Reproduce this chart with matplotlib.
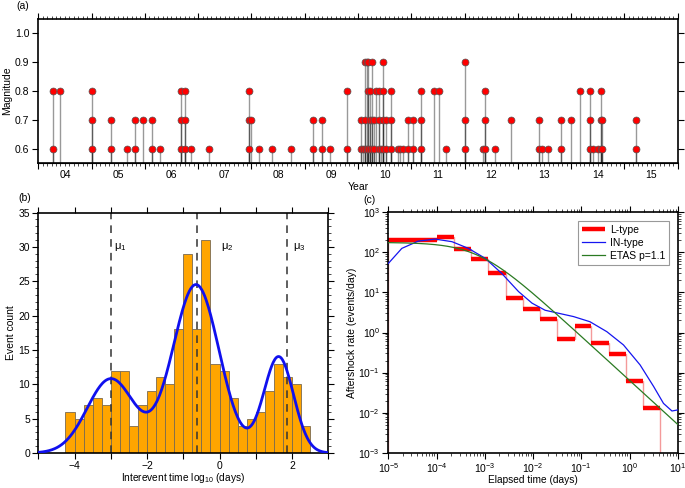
import numpy as np
import matplotlib
matplotlib.use('Agg')
import matplotlib.pyplot as plt
from matplotlib.ticker import MultipleLocator, LogLocator, NullFormatter

plt.rcParams['font.family'] = ['Liberation Sans', 'DejaVu Sans']
plt.rcParams['mathtext.default'] = 'regular'
plt.rcParams['font.size'] = 7.5

# (a) catalogue: event time (decimal year) and magnitude
ev_year = [2004.27, 2004.27, 2004.41,
           2005.00, 2005.00, 2005.00, 2005.36, 2005.36, 2005.66, 2005.81, 2005.81, 2005.96,
           2006.13, 2006.13, 2006.29, 2006.68, 2006.68, 2006.68, 2006.76, 2006.76, 2006.76, 2006.87,
           2007.21, 2007.96, 2007.96, 2007.96,
           2008.00, 2008.14, 2008.39, 2008.74,
           2009.16, 2009.16, 2009.33, 2009.33, 2009.48, 2009.80, 2009.80,
           2010.06, 2010.06, 2010.09, 2010.13, 2010.13, 2010.13, 2010.16, 2010.16,
           2010.19, 2010.19, 2010.19, 2010.23, 2010.23, 2010.23, 2010.27, 2010.27, 2010.27,
           2010.31, 2010.31, 2010.33, 2010.39, 2010.39, 2010.39, 2010.44,
           2010.47, 2010.47, 2010.47, 2010.47, 2010.53, 2010.53, 2010.62, 2010.62, 2010.62,
           2010.75, 2010.78, 2010.84, 2010.94, 2010.94,
           2011.03, 2011.03, 2011.19, 2011.19, 2011.19, 2011.43, 2011.52, 2011.66,
           2012.00, 2012.00, 2012.00, 2012.34, 2012.38, 2012.39, 2012.39, 2012.57, 2012.87,
           2013.40, 2013.40, 2013.45, 2013.57, 2013.81, 2013.81,
           2014.00, 2014.17, 2014.35, 2014.35, 2014.35, 2014.42, 2014.50,
           2014.56, 2014.56, 2014.56, 2014.58, 2014.58,
           2015.22, 2015.22]
ev_mag = [0.8, 0.6, 0.8,
          0.8, 0.7, 0.6, 0.7, 0.6, 0.6, 0.7, 0.6, 0.7,
          0.7, 0.6, 0.6, 0.8, 0.7, 0.6, 0.8, 0.7, 0.6, 0.6,
          0.6, 0.8, 0.7, 0.6,
          0.7, 0.6, 0.6, 0.6,
          0.7, 0.6, 0.7, 0.6, 0.6, 0.8, 0.6,
          0.7, 0.6, 0.6, 0.9, 0.7, 0.6, 0.9, 0.6,
          0.9, 0.8, 0.6, 0.8, 0.7, 0.6, 0.9, 0.7, 0.6,
          0.7, 0.6, 0.8, 0.8, 0.7, 0.6, 0.6,
          0.9, 0.8, 0.7, 0.6, 0.7, 0.6, 0.8, 0.7, 0.6,
          0.6, 0.6, 0.6, 0.7, 0.6,
          0.7, 0.6, 0.8, 0.7, 0.6, 0.8, 0.8, 0.6,
          0.9, 0.7, 0.6, 0.6, 0.6, 0.8, 0.7, 0.6, 0.7,
          0.7, 0.6, 0.6, 0.6, 0.7, 0.6,
          0.7, 0.8, 0.8, 0.7, 0.6, 0.6, 0.6,
          0.8, 0.7, 0.6, 0.7, 0.6,
          0.7, 0.6]
year_labels = ['04', '05', '06', '07', '08', '09', '10', '11', '12', '13', '14', '15']

# (b) histogram of interevent times, log10(days)
hist_left = -4.25
hist_width = 0.25
hist_counts = [6, 5, 7, 8, 7, 12, 12, 4, 7, 9, 11, 10, 18, 29, 18, 31,
               13, 12, 8, 4, 5, 6, 9, 13, 11, 10, 4]
# three-component fit drawn as the blue curve
fit_center = [-3.0, -0.65, 1.63]
fit_amp = [10.8, 24.5, 14.0]
fit_sigma = [0.65, 0.64, 0.41]
mu_pos = [-3.0, -0.62, 1.87]
mu_names = [r'μ$_1$', r'μ$_2$', r'μ$_3$']
mu_text_x = [-2.9, 0.05, 2.03]

# (c) aftershock rate
bin_edges_log = [-5.0, -4.0, -3.64, -3.29, -2.93, -2.57, -2.21, -1.86, -1.5,
                 -1.14, -0.79, -0.43, -0.07, 0.29, 0.64]
ltype_rate = [204, 238, 122, 70, 30, 7.4, 3.8, 2.2, 0.68, 1.48, 0.54, 0.29, 0.062, 0.013]
in_logt = [-5.0, -4.72, -4.38, -4.03, -3.68, -3.34, -2.99, -2.65, -2.30, -2.02, -1.75,
           -1.51, -1.16, -0.82, -0.47, -0.125, 0.22, 0.50, 0.705, 0.88, 1.0]
in_rate = [53, 126, 191, 215, 185, 126, 71, 30, 10.5, 5.4, 3.6,
           3.1, 2.5, 1.86, 1.05, 0.49, 0.155, 0.045, 0.017, 0.011, 0.0117]
etas_K = 0.064
etas_c = 7.4e-4
etas_p = 1.1

fig = plt.figure(figsize=(6.85, 4.88), dpi=100)

# ---------- (a)
ax = fig.add_axes([0.0559, 0.666, 0.9334, 0.295])
ax.vlines(ev_year, 0.55, ev_mag, colors='k', alpha=0.4, lw=1.0, zorder=1)
ax.plot(ev_year, ev_mag, 'o', mfc='red', mec='#555555', mew=0.5, ms=5, zorder=3,
        clip_on=False)
ax.set_xlim(2004, 2016)
ax.set_ylim(0.55, 1.05)
ax.set_xticks(np.arange(2004, 2017))
ax.xaxis.set_minor_locator(MultipleLocator(1 / 12))
ax.set_yticks([0.6, 0.7, 0.8, 0.9, 1.0])
ax.tick_params(which='both', direction='out', top=True, right=True, labelbottom=False)
ax.tick_params(which='major', length=4, width=0.8, pad=2.5)
ax.tick_params(which='minor', length=2, width=0.5)
ax.tick_params(axis='y', which='minor', length=0)
ax.set_ylabel('Magnitude', labelpad=2)
sec = ax.secondary_xaxis('bottom')
sec.set_xticks(np.arange(2004.5, 2016, 1), labels=year_labels)
sec.tick_params(length=0, pad=5)
sec.set_xlabel('Year', labelpad=1.5)
for s in ax.spines.values():
    s.set_linewidth(1.2)
ax.text(-0.024, 1.09, '(a)', transform=ax.transAxes, ha='center', va='center')

# ---------- (b)
ax = fig.add_axes([0.0559, 0.0717, 0.4234, 0.4928])
edges = hist_left + hist_width * np.arange(len(hist_counts))
ax.bar(edges, hist_counts, width=hist_width, align='edge', color='orange',
       edgecolor='#7a6a50', lw=0.6, zorder=1)
xs = np.linspace(-5, 3, 400)
ys = np.zeros_like(xs)
for c, a, s in zip(fit_center, fit_amp, fit_sigma):
    ys += a * np.exp(-(xs - c) ** 2 / (2 * s ** 2))
ax.plot(xs, ys, color='#1010ee', lw=2, zorder=3)
for m, name, tx in zip(mu_pos, mu_names, mu_text_x):
    ax.axvline(m, color='#333333', lw=1.1, dashes=(5, 4), zorder=2)
    ax.text(tx, 30, name, ha='left', va='center', fontsize=8)
ax.set_xlim(-5, 3)
ax.set_ylim(0, 35)
ax.set_xticks([-4, -2, 0, 2])
ax.xaxis.set_minor_locator(MultipleLocator(1))
ax.set_yticks(range(0, 36, 5))
ax.yaxis.set_minor_locator(MultipleLocator(1))
ax.tick_params(which='both', direction='out', top=True, right=True)
ax.tick_params(which='major', length=4, width=0.8, pad=2)
ax.tick_params(axis='x', which='minor', length=4, width=0.8)
ax.tick_params(axis='y', which='minor', length=2, width=0.5)
ax.set_xlabel('Interevent time log$_{10}$ (days)', labelpad=0, fontsize=7.3)
ax.set_ylabel('Event count', labelpad=2)
for s in ax.spines.values():
    s.set_linewidth(1.2)
ax.text(-0.048, 1.06, '(b)', transform=ax.transAxes, ha='center', va='center')

# ---------- (c)
ax = fig.add_axes([0.5669, 0.0723, 0.4225, 0.4926])
edges_t = 10.0 ** np.array(bin_edges_log)
ax.stairs(ltype_rate, edges_t, baseline=1e-4, color='#f49a9a', lw=1.0, zorder=1)
ax.hlines(ltype_rate, edges_t[:-1], edges_t[1:], colors='red', lw=3.2, zorder=2,
          label='L-type')
ax.plot(10.0 ** np.array(in_logt), in_rate, color='#1515f0', lw=0.9, zorder=3,
        label='IN-type')
tt = np.logspace(-5, 1, 300)
ax.plot(tt, etas_K / (tt + etas_c) ** etas_p, color='#2a7a22', lw=0.9, zorder=3,
        label='ETAS p=1.1')
ax.set_xscale('log')
ax.set_yscale('log')
ax.set_xlim(1e-5, 1e1)
ax.set_ylim(1e-3, 1e3)
for axis in (ax.xaxis, ax.yaxis):
    axis.set_major_locator(LogLocator(base=10, numticks=20))
    axis.set_minor_locator(LogLocator(base=10, subs=np.arange(2, 10), numticks=20))
    axis.set_minor_formatter(NullFormatter())
ax.tick_params(which='both', direction='out', top=True, right=True)
ax.tick_params(which='major', length=4, width=0.8, pad=2)
ax.tick_params(which='minor', length=2, width=0.5)
ax.set_xlabel('Elapsed time (days)', labelpad=0, fontsize=7.3)
ax.set_ylabel('Aftershock rate (events/day)', labelpad=1)
leg = ax.legend(loc='upper right', fontsize=7.5, fancybox=False, framealpha=1,
                edgecolor='#999999', handlelength=2.2, borderaxespad=0.8,
                labelspacing=0.3, handletextpad=0.5)
leg.get_frame().set_linewidth(0.8)
for s in ax.spines.values():
    s.set_linewidth(1.2)
ax.text(-0.065, 1.05, '(c)', transform=ax.transAxes, ha='center', va='center')

fig.savefig('out.png', dpi=100)
